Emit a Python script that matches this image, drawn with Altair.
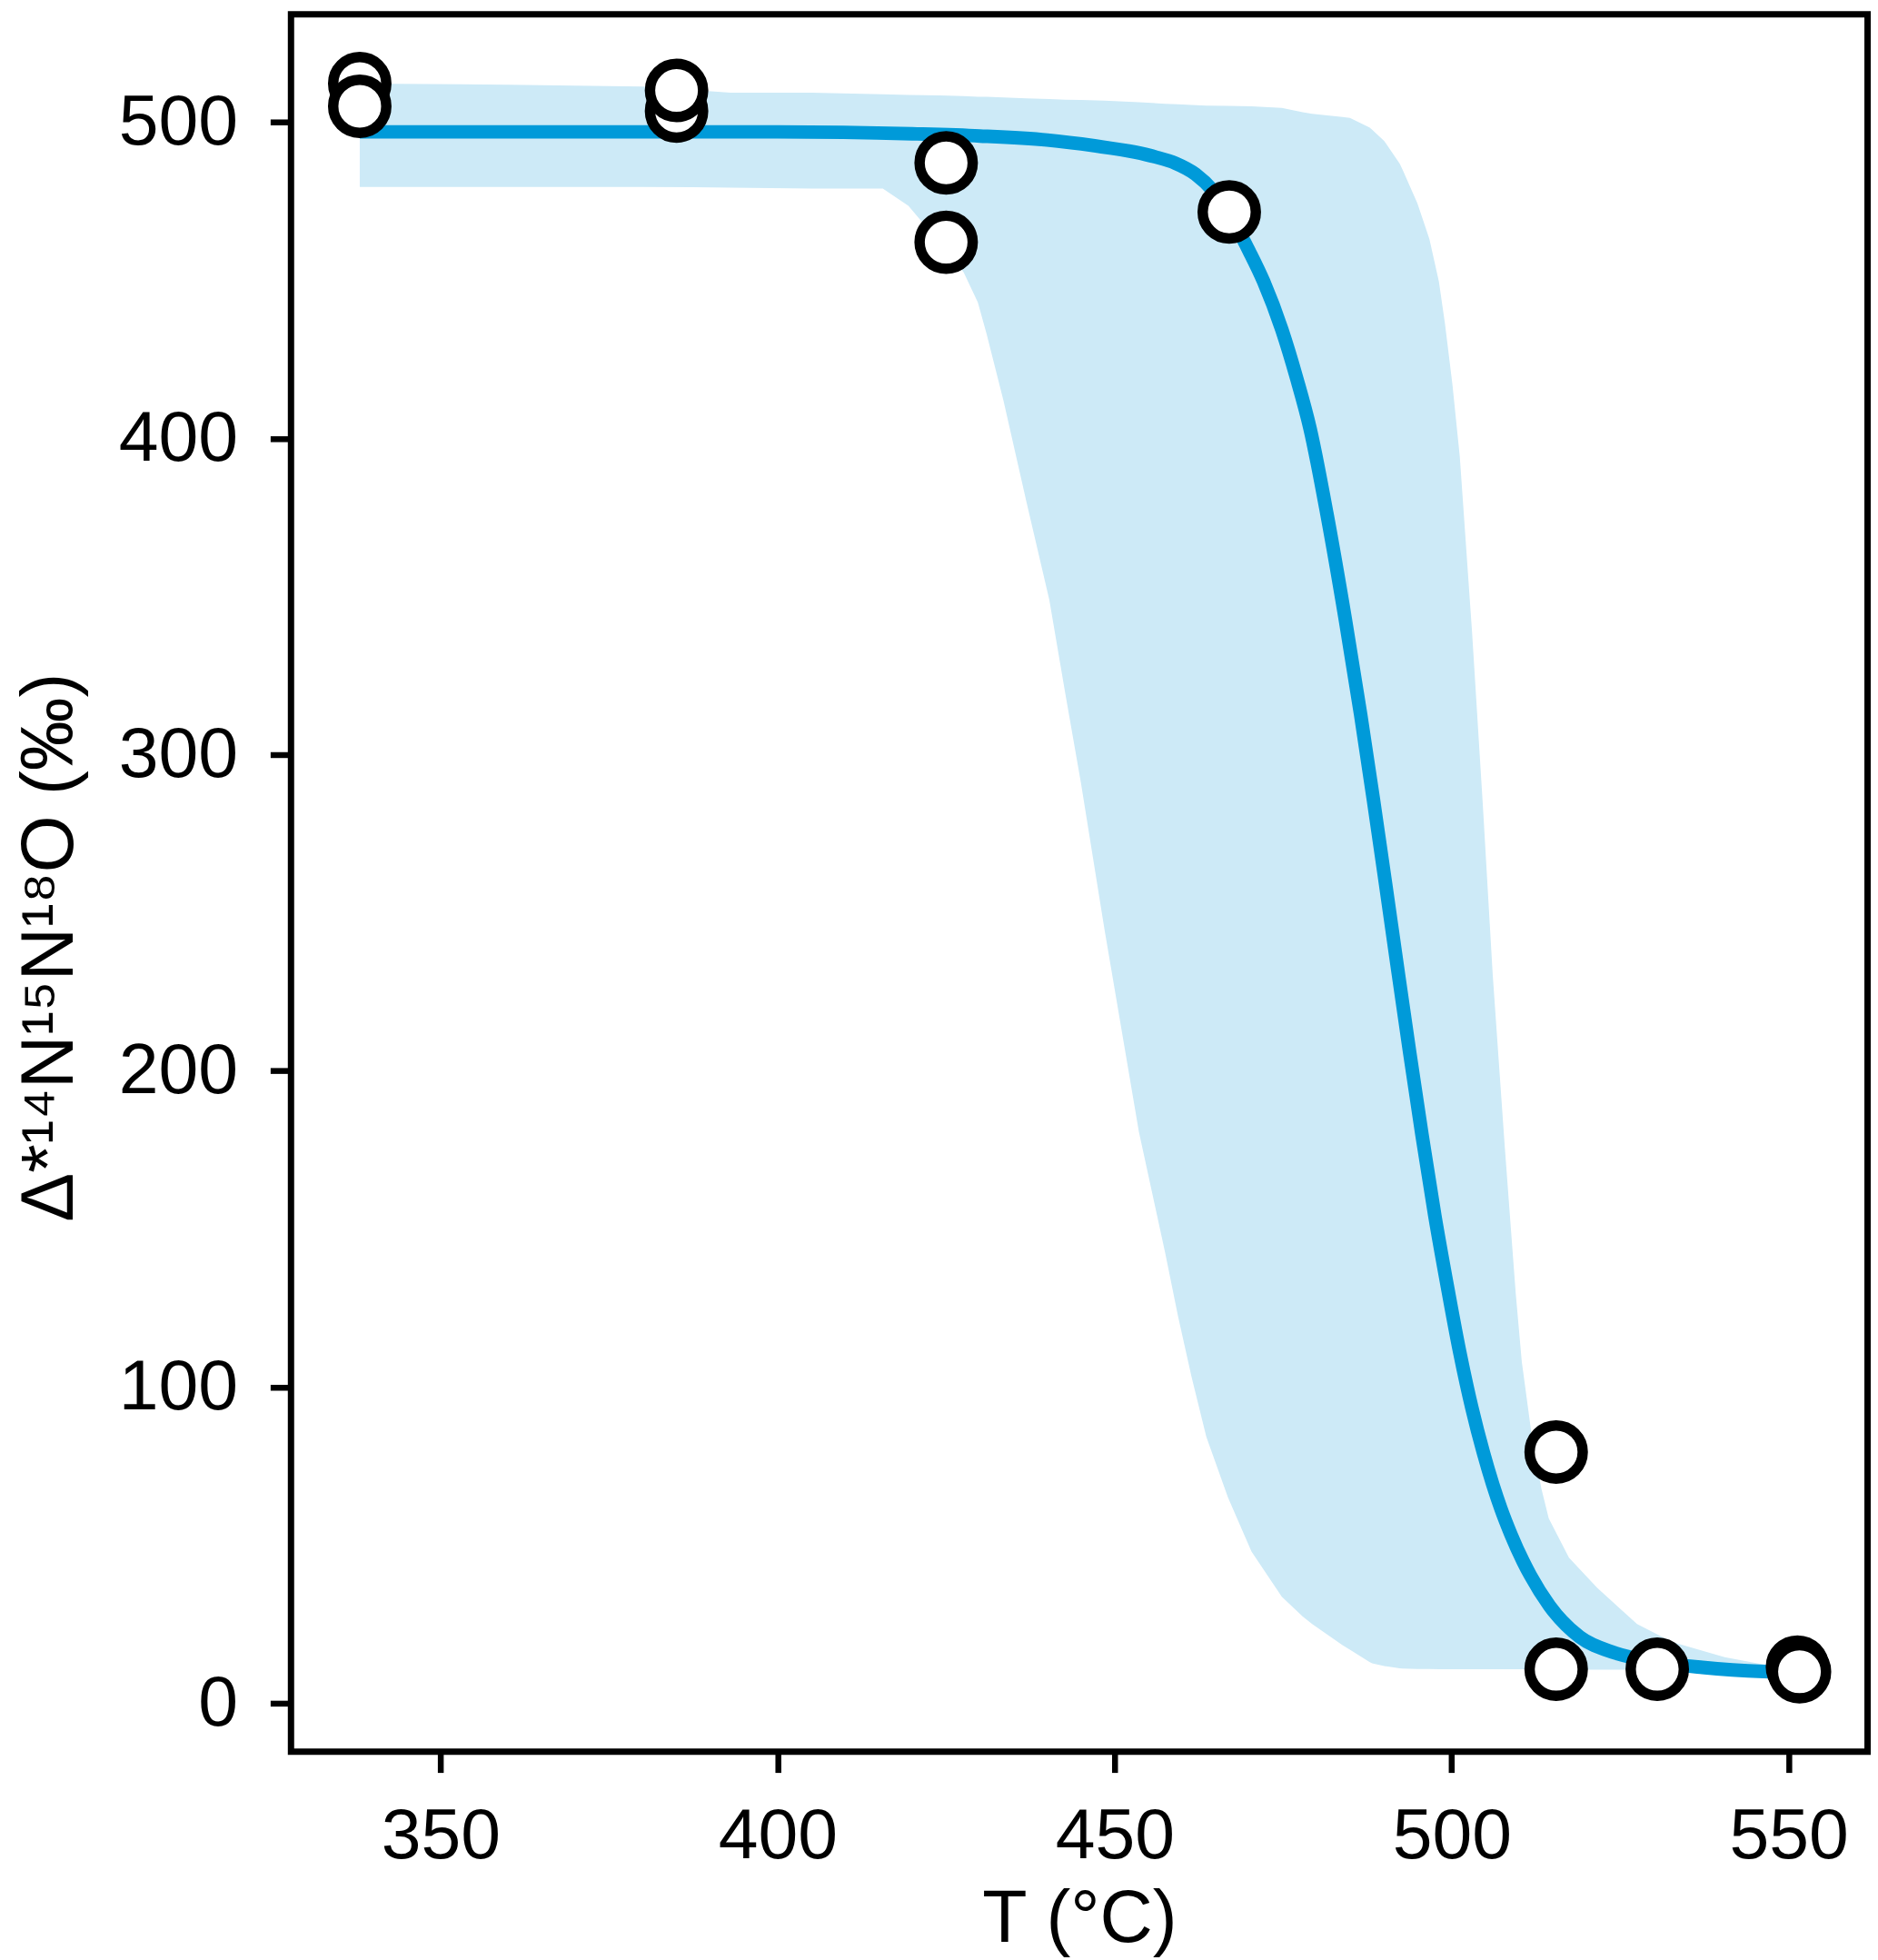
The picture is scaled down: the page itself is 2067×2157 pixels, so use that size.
import altair as alt
import pandas as pd

# ---- data ----
pt_T = [338, 338, 385, 385, 425, 425, 467, 515.5, 515.5, 530.5, 551.3, 551.6]
pt_V = [512.2, 505.0, 503.5, 510.0, 487.1, 462.0, 471.6, 79.5, 10.8, 10.8, 11.5, 10.0]

line_T = [338, 400, 420, 430, 440, 447, 453, 456, 459, 462, 464.5, 466.8, 470, 472.1,
          474.8, 477, 479, 481.5, 484.2, 486.5, 488.4, 490.2, 492, 493.8, 495.6, 497.5,
          499.5, 501.2, 503, 504.7, 506.1, 507.3, 508.8, 510.6, 511.7, 514.5, 519, 524.2,
          530.7, 537.2, 546.3, 551.5]
line_V = [496.9, 496.9, 496.3, 495.6, 494.3, 492.5, 490.5, 489, 487, 483.5, 478.5, 471.6,
          459, 449.6, 434.4, 419, 403, 376, 343, 312.6, 285.6, 259, 232, 205.4, 179.7,
          154.2, 130.2, 111, 93.4, 79.3, 69.2, 61.6, 53.4, 44.9, 40.4, 30.9, 21.0, 16.0,
          13.0, 11.4, 10.1, 9.8]

band_T = [338, 360, 380, 393, 405, 415.6, 419.4, 424, 427.6, 429.7, 431, 433.5, 436.9,
          440.3, 442.7, 445, 448.5, 453.6, 457.5, 459.4, 461.4, 463.6, 466.8, 470.3, 474.8,
          477.9, 479.3, 483.8, 484.9, 487.8, 488.2, 490, 492.3, 492.7, 494.9, 496.7, 498.1,
          499, 500.1, 501.2, 503, 504.6, 506.1, 507.9, 509.5, 510.4, 511.9, 513.3, 514.4,
          517.4, 521.6, 527.5, 532.7, 540.5, 545.7, 551.5]
band_lo = [479.5, 479.5, 479.5, 479.3, 479.0, 479.0, 473.5, 462.0, 452.5, 443.0, 433.0,
           412.0, 380.0, 349.0, 319.0, 291.0, 244.6, 180.7, 142.4, 122.4, 103.3, 84.3, 65.2,
           48.0, 33.7, 27.5, 25.1, 18.4, 17.0, 13.1, 12.7, 11.8, 11.1, 11.0, 10.9, 10.9,
           10.8, 10.8, 10.8, 10.8, 10.8, 10.8, 10.8, 10.8, 10.8, 10.8, 10.8, 10.8, 10.8,
           10.7, 10.7, 10.7, 10.6, 10.5, 10.4, 10.3]
band_hi = [512.2, 511.8, 511.2, 509.3, 509.3, 508.8, 508.6, 508.4, 508.2, 508.0, 508.0,
           507.8, 507.5, 507.3, 507.1, 507.0, 506.8, 506.3, 505.8, 505.6, 505.4, 505.2,
           505.1, 505.0, 504.5, 503.1, 502.6, 501.6, 501.3, 498.3, 497.6, 494.0, 486.8,
           485.0, 474.4, 463.0, 449.6, 436.3, 417.2, 394.3, 339.5, 284.8, 230.0, 175.3,
           129.7, 108.1, 84.3, 68.0, 58.5, 46.1, 36.5, 25.1, 19.4, 14.6, 12.5, 11.0]

x_ticks = [350, 400, 450, 500, 550]
y_ticks = [0, 100, 200, 300, 400, 500]

pts = pd.DataFrame({"T": pt_T, "V": pt_V, "order": list(range(len(pt_T)))})
line = pd.DataFrame({"T": line_T, "V": line_V})
band = pd.DataFrame({"T": band_T, "lo": band_lo, "hi": band_hi})

FONT = "Liberation Sans"
W, H = 1742, 1919.5

xs = alt.Scale(domain=[327.8, 561.7], nice=False, zero=False)
ys = alt.Scale(domain=[-15.25, 534.1], nice=False, zero=False)

xaxis = alt.Axis(values=x_ticks, format="d", title="T (°C)", labelPadding=32,
                 titleY=210, titleX=W / 2, titleBaseline="alphabetic", titleAlign="center",
                 titleFontSize=81)
yaxis = alt.Axis(values=y_ticks, format="d", title="Δ*¹⁴N¹⁵N¹⁸O (‰)", labelPadding=36,
                 titleX=-242, titleY=1030.5, titleAngle=-90, titleAlign="center",
                 titleBaseline="alphabetic", titleFontSize=81)

area = alt.Chart(band).mark_area(color="#CDEAF7", opacity=1, interpolate="linear").encode(
    x=alt.X("T:Q", scale=xs, axis=xaxis),
    y=alt.Y("lo:Q", scale=ys, axis=yaxis),
    y2="hi:Q",
)

curve = alt.Chart(line).mark_line(color="#009AD9", strokeWidth=15, interpolate="monotone").encode(
    x=alt.X("T:Q", scale=xs),
    y=alt.Y("V:Q", scale=ys),
)

dots = alt.Chart(pts).mark_point(shape="circle", filled=True, fill="white", stroke="black",
                                 strokeWidth=11.5, size=3446, opacity=1).encode(
    x=alt.X("T:Q", scale=xs),
    y=alt.Y("V:Q", scale=ys),
    order=alt.Order("order:Q"),
)

chart = alt.layer(area, curve, dots).properties(
    width=W, height=H,
    autosize=alt.AutoSizeParams(type="none"),
    padding={"left": 313.5, "top": 3.5, "right": 3.5, "bottom": 226},
).configure_view(
    stroke="black", strokeWidth=7
).configure_axis(
    domain=False, grid=False, ticks=True, tickSize=23, tickWidth=6.5, tickColor="black",
    labelFont=FONT, labelFontSize=79, labelColor="black", labelFlush=False, labelOverlap=False,
    titleFont=FONT, titleFontWeight="normal", titleColor="black",
)

chart.save("out.html", embed_options={"renderer": "svg", "actions": False})
